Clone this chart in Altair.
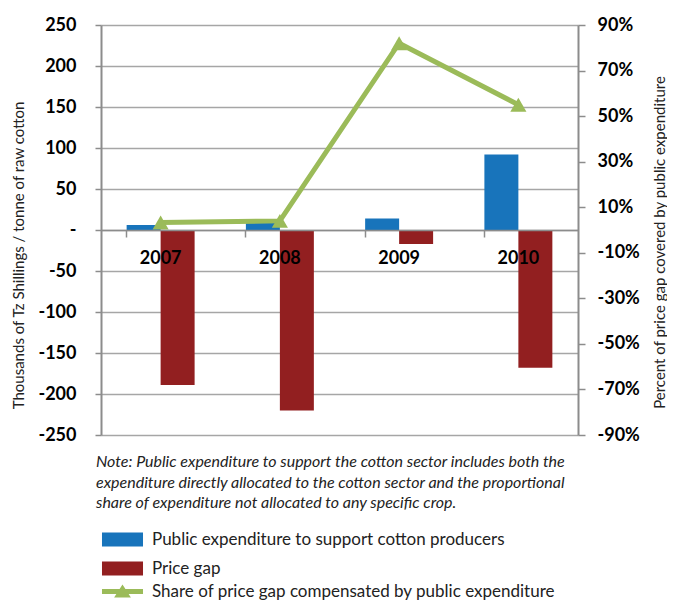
import altair as alt
import pandas as pd

# ---- data ----
years = ["2007", "2008", "2009", "2010"]
public_exp = [6, 9, 14, 92]          # thousands TZS / tonne
price_gap = [-189, -220, -17, -168]  # thousands TZS / tonne
share = [0.033, 0.040, 0.82, 0.55]   # share of price gap compensated

s_pub = "Public expenditure to support cotton producers"
s_gap = "Price gap"
s_share = "Share of price gap compensated by public expenditure"

left_ticks = [-250, -200, -150, -100, -50, 0, 50, 100, 150, 200, 250]
right_ticks = [-0.9, -0.7, -0.5, -0.3, -0.1, 0.1, 0.3, 0.5, 0.7, 0.9]

left_title = "Thousands of Tz Shillings / tonne of raw cotton"
right_title = "Percent of price gap covered by public expenditure"

note_lines = [
    "Note: Public expenditure to support the cotton sector includes both the",
    "expenditure directly allocated to the cotton sector and the proportional",
    "share of expenditure not allocated to any specific crop.",
]

BLUE = "#1874BB"
RED = "#921F20"
GREEN = "#9BBB59"
GRID = "#A6A6A6"
AXIS = "#8C8C8C"
FONT = "Lato"

W, H = 477, 410

bars_df = pd.DataFrame({
    "year": years * 2,
    "series": [s_pub] * len(years) + [s_gap] * len(years),
    "value": public_exp + price_gap,
})
line_df = pd.DataFrame({"year": years, "series": [s_share] * len(years), "share": share})

x_scale = alt.Scale(domain=years, paddingInner=0.43, paddingOuter=0.215)
x_axis = alt.Axis(
    title=None, orient="bottom", offset=-H / 2, bandPosition=0, labelAngle=0,
    labelFont=FONT, labelFontSize=18, labelFontWeight="bold", labelColor="#000",
    labelPadding=12, tickSize=7, tickColor=AXIS, tickWidth=1.5,
    domainColor=AXIS, domainWidth=1.5, zindex=1,
)

left_axis = alt.Axis(
    values=left_ticks, grid=True, gridColor=GRID, gridWidth=1.5,
    domainColor=AXIS, domainWidth=2, tickColor=AXIS, tickWidth=1.5, tickSize=6,
    labelExpr="datum.value == 0 ? '-' : (datum.value < 0 ? '-' : '') + abs(datum.value)",
    labelFont=FONT, labelFontSize=18, labelFontWeight="bold", labelColor="#000",
    labelPadding=19, title=left_title, titleFont=FONT, titleFontSize=15,
    titleFontWeight="normal", titleColor="#222", titleX=-83, titleY=230,
    titleBaseline="middle",
)

right_axis = alt.Axis(
    orient="right", values=right_ticks, grid=False,
    domainColor=AXIS, domainWidth=2, tickColor=AXIS, tickWidth=1.5, tickSize=7,
    labelExpr="(datum.value < 0 ? '-' : '') + round(abs(datum.value) * 100) + '%'",
    labelFont=FONT, labelFontSize=18, labelFontWeight="bold", labelColor="#000",
    labelPadding=12, title=right_title, titleFont=FONT, titleFontSize=15,
    titleFontWeight="normal", titleColor="#222", titleAngle=270, titleX=81,
    titleY=217, titleBaseline="middle",
)

RECT_PATH = "M-2.93,-1H2.93V1H-2.93Z"
LINE_TRI_PATH = "M-2.93,-0.36H2.93V0.36H-2.93Z M-1.2,0.86L0,-1L1.2,0.86Z"

bars = alt.Chart(bars_df).mark_bar().encode(
    x=alt.X("year:N", scale=x_scale, axis=x_axis, sort=years),
    xOffset=alt.XOffset("series:N", scale=alt.Scale(domain=[s_pub, s_gap])),
    y=alt.Y("value:Q", scale=alt.Scale(domain=[-250, 250], nice=False, zero=False), axis=left_axis),
    fill=alt.Fill(
        "series:N",
        scale=alt.Scale(domain=[s_pub, s_gap], range=[BLUE, RED]),
        legend=alt.Legend(
            title=None, orient="none", legendX=13, legendY=506, padding=0,
            symbolType=RECT_PATH, symbolSize=196, symbolStrokeWidth=0,
            labelFont=FONT, labelFontSize=17, labelColor="#222", labelOffset=21,
            rowPadding=11, labelLimit=600,
        ),
    ),
)

line = alt.Chart(line_df).mark_line(
    strokeWidth=5,
    point=alt.OverlayMarkDef(shape="triangle-up", size=260, filled=True, opacity=1),
).encode(
    x=alt.X("year:N", scale=x_scale, axis=x_axis, sort=years),
    y=alt.Y("share:Q", scale=alt.Scale(domain=[-0.9, 0.9], nice=False, zero=False), axis=right_axis),
    color=alt.Color(
        "series:N",
        scale=alt.Scale(domain=[s_share], range=[GREEN]),
        legend=alt.Legend(
            title=None, orient="none", legendX=13, legendY=558, padding=0,
            symbolType=LINE_TRI_PATH, symbolSize=196, symbolStrokeWidth=0,
            symbolFillColor=GREEN,
            labelFont=FONT, labelFontSize=17, labelColor="#222", labelOffset=21,
            labelLimit=600,
        ),
    ),
)

chart = alt.layer(bars, line).resolve_scale(
    y="independent", color="independent", fill="independent"
).properties(
    width=W, height=H,
    autosize=alt.AutoSizeParams(type="none"),
    padding={"left": 93, "top": 17, "right": 89, "bottom": 172},
    title=alt.TitleParams(
        text=note_lines, orient="bottom", anchor="start", frame="group",
        font=FONT, fontSize=16, fontStyle="italic", fontWeight="normal",
        color="#222", lineHeight=20.5, offset=-146, dx=-5,
    ),
    background="white",
).configure_view(stroke=None)

chart.save("out.html", embed_options={"renderer": "svg", "actions": False})
